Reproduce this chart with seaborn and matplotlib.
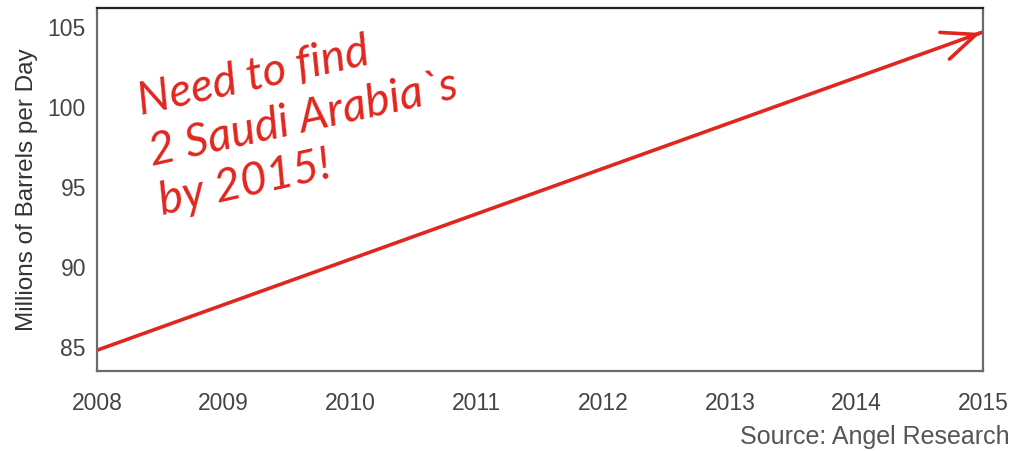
import matplotlib
matplotlib.use("Agg")
import matplotlib.pyplot as plt
import seaborn as sns
import pandas as pd

years = [2008, 2015]
demand = [84.8, 104.7]
y_ticks = [85, 90, 95, 100, 105]
x_ticks = [2008, 2009, 2010, 2011, 2012, 2013, 2014, 2015]
note_lines = ["Need to find", "2 Saudi Arabia`s", "by 2015!"]
ylabel = "Millions of Barrels per Day"
source = "Source: Angel Research"

sns.set_theme(style="white")
plt.rcParams['font.family'] = ['Liberation Sans', 'DejaVu Sans']

RED = "#e1261f"
W, H = 1013, 451
df = pd.DataFrame({"year": years, "demand": demand})

fig = plt.figure(figsize=(W/100, H/100), dpi=100)
ax = fig.add_axes([97/W, 1 - 371/H, (983-97)/W, (371-8)/H])

sns.lineplot(data=df, x="year", y="demand", ax=ax, color=RED, linewidth=2.6)
slope = (demand[-1]-demand[0]) / (years[-1]-years[0])
ax.annotate("", xy=(years[-1], demand[-1]),
            xytext=(years[-1] - 0.05, demand[-1] - 0.05 * slope),
            arrowprops=dict(arrowstyle="->,head_length=2.0,head_width=0.85", color=RED, lw=2.6),
            annotation_clip=False)

ax.set_xlim(2008, 2015)
ax.set_ylim(83.5, 106.2)
ax.set_xticks(x_ticks)
ax.set_yticks(y_ticks)
ax.set_xticklabels([str(x) for x in x_ticks])
ax.tick_params(axis="both", length=0, labelsize=16.5, colors="#444444")
ax.tick_params(axis="y", pad=8)
ax.tick_params(axis="x", pad=15)
ax.set_xlabel("")
ax.set_ylabel(ylabel, fontsize=17.5, color="#333333", labelpad=7)

for side in ["left", "right", "bottom"]:
    ax.spines[side].set_color("#6b6b6b")
    ax.spines[side].set_linewidth(1.6)
ax.spines["top"].set_color("#222222")
ax.spines["top"].set_linewidth(1.6)

starts = [(141, 115), (152, 166), (162, 215)]
for line, (px, py) in zip(note_lines, starts):
    fig.text(px/W, 1 - py/H, line, fontsize=33, color=RED, style="italic",
             fontweight="normal", rotation=12.5, rotation_mode="anchor",
             ha="left", va="baseline", family=["Lato", "DejaVu Sans"])

fig.text(1010/W, 1 - 437/H, source, ha="right", va="center",
         fontsize=18, color="#555555")

fig.savefig("out.png", dpi=100, facecolor="white")
